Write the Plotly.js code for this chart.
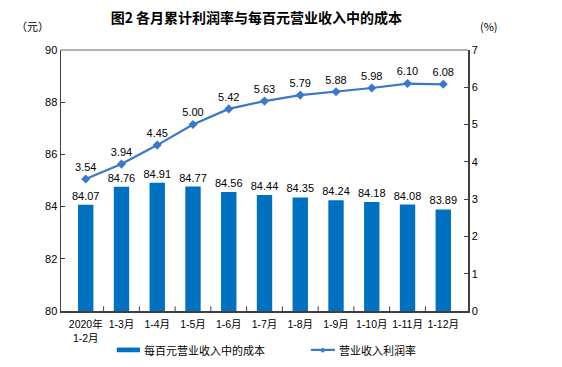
<!DOCTYPE html>
<html><head><meta charset="utf-8">
<script src="https://cdn.plot.ly/plotly-3.0.1.min.js"></script>
<style>html,body{margin:0;padding:0;background:#fff}#c{width:562px;height:367px}</style>
</head><body><div id="c"></div>
<script>
const categories = ["2020年<br>1-2月","1-3月","1-4月","1-5月","1-6月","1-7月","1-8月","1-9月","1-10月","1-11月","1-12月"];
const costPer100 = [84.07,84.76,84.91,84.77,84.56,84.44,84.35,84.24,84.18,84.08,83.89];
const profitRate = [3.54,3.94,4.45,5.00,5.42,5.63,5.79,5.88,5.98,6.10,6.08];
const leftTicks = [80,82,84,86,88,90];
const rightTicks = [0,1,2,3,4,5,6,7];
const seriesNames = ['每百元营业收入中的成本','营业收入利润率'];

const F = "Liberation Sans, Noto Sans CJK SC, sans-serif";
const CJK = "Noto Sans CJK SC, Liberation Sans, sans-serif";
const BAR = '#0070C0', LINE = '#3C78C8';

const traces = [
  {type:'bar', name:seriesNames[0], x:categories, y:costPer100,
   marker:{color:BAR}, width:0.43,
   text:costPer100.map(v=>v.toFixed(2)), textposition:'outside', cliponaxis:false, constraintext:'none',
   textfont:{family:F,size:11,color:'#000'}, yaxis:'y', hoverinfo:'none'},
  {type:'scatter', mode:'lines+markers+text', name:seriesNames[1], x:categories, y:profitRate,
   line:{color:LINE,width:2.2}, marker:{symbol:'diamond',size:7,color:LINE},
   text:profitRate.map(v=>v.toFixed(2)), textposition:'top center',
   textfont:{family:F,size:11,color:'#000'}, yaxis:'y2', cliponaxis:false, hoverinfo:'none'}
];

const layout = {
  width:562, height:367,
  margin:{l:61,r:94,t:50,b:56,autoexpand:false},
  paper_bgcolor:'#fff', plot_bgcolor:'#fff',
  showlegend:false,
  title:{text:'图2 各月累计利润率与每百元营业收入中的成本', xref:'paper', x:0.48, xanchor:'center', y:0.952, yanchor:'middle',
    font:{family:CJK,size:14,color:'#000',weight:'bold'}},
  xaxis:{type:'category', showline:true, linecolor:'#404040', linewidth:1.5, mirror:false,
    ticks:'', ticklabelstandoff:3, tickfont:{family:F,size:10.5,color:'#000'}, showgrid:false, zeroline:false, fixedrange:true},
  yaxis:{range:[80,90], tickvals:leftTicks, ticks:'inside', ticklen:4, tickcolor:'#404040',
    showline:true, linecolor:'#404040', linewidth:1.5, showgrid:false, zeroline:false,
    tickfont:{family:F,size:11,color:'#000'}},
  yaxis2:{range:[0,7], tickvals:rightTicks, overlaying:'y', side:'right', ticks:'inside', ticklen:4,
    tickcolor:'#404040', showline:true, linecolor:'#404040', linewidth:1.5, showgrid:false, zeroline:false,
    tickfont:{family:F,size:11,color:'#000'}},
  shapes:[
    {type:'line', xref:'paper', yref:'paper', x0:0, x1:1, y0:1, y1:1, line:{color:'#999',width:1.5}},
    // legend symbols
    {type:'rect', xref:'paper', yref:'paper', x0:0.137, x1:0.194, y0:-0.158, y1:-0.140, fillcolor:BAR, line:{width:0}},
    {type:'line', xref:'paper', yref:'paper', x0:0.614, x1:0.673, y0:-0.149, y1:-0.149, line:{color:LINE,width:2.2}}
  ].concat(categories.slice(0,-1).map((c,i)=>({type:'line', xref:'x', yref:'paper', x0:i+0.5, x1:i+0.5, y0:0, y1:0.018, line:{color:'#404040',width:1}}))),
  annotations:[
    {text:'（元）', xref:'paper', yref:'paper', x:-0.025, y:1.055, xanchor:'right', yanchor:'bottom', showarrow:false,
     font:{family:CJK,size:11,color:'#000'}},
    {text:'(%)', xref:'paper', yref:'paper', x:1.025, y:1.055, xanchor:'left', yanchor:'bottom', showarrow:false,
     font:{family:CJK,size:11,color:'#000'}},
    {text:seriesNames[0], xref:'paper', yref:'paper', x:0.198, y:-0.149, xanchor:'left', yanchor:'middle', showarrow:false,
     font:{family:CJK,size:11,color:'#000'}},
    {text:seriesNames[1], xref:'paper', yref:'paper', x:0.677, y:-0.149, xanchor:'left', yanchor:'middle', showarrow:false,
     font:{family:CJK,size:11,color:'#000'}},
    {text:'◆', xref:'paper', yref:'paper', x:0.6435, y:-0.149, xanchor:'center', yanchor:'middle', showarrow:false,
     font:{family:'DejaVu Sans',size:7,color:LINE}}
  ]
};
Plotly.newPlot('c', traces, layout, {displayModeBar:false, staticPlot:true});
</script></body></html>
